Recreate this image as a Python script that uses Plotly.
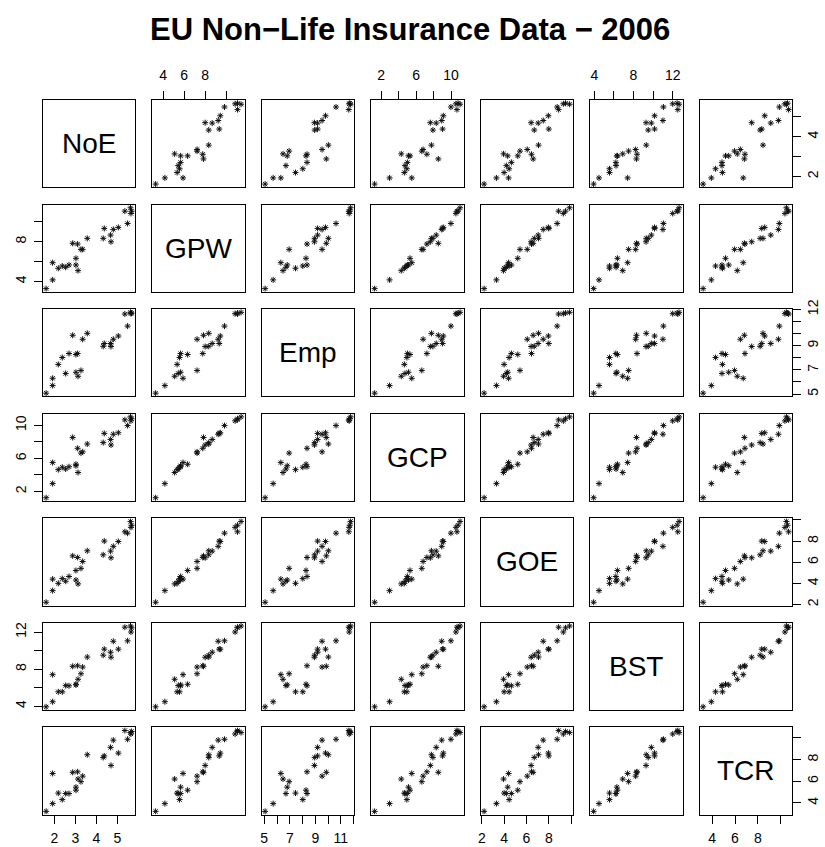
import plotly.graph_objects as go

# ---- data (26 insurance markets, log-scale measures) ----
var_names = ["NoE", "GPW", "Emp", "GCP", "GOE", "BST", "TCR"]
noe = [1.61, 1.92, 1.92, 2.19, 2.38, 2.54, 2.70, 2.875, 3.11, 3.03, 3.03, 3.13, 3.27,
       3.35, 3.57, 4.38, 4.33, 4.68, 4.70, 4.81, 5.05, 5.49, 5.36, 5.63, 5.65, 5.68]
gpw = [3.28, 4.16, 5.89, 5.33, 5.56, 5.43, 5.66, 7.84, 7.77, 6.33, 5.66, 5.09, 7.23,
       7.23, 8.34, 9.34, 8.34, 8.67, 8.00, 9.24, 9.44, 9.84, 11.08, 11.42, 10.85, 11.08]
emp = [5.07, 5.70, 6.30, 7.45, 8.02, 6.70, 8.35, 9.86, 8.35, 8.27, 6.80, 6.47, 6.95,
       9.53, 10.02, 9.18, 8.95, 9.18, 8.93, 9.53, 9.80, 10.62, 11.62, 11.76, 11.65, 11.70]
gcp = [1.25, 2.96, 5.50, 4.65, 4.94, 4.72, 5.00, 8.54, 7.23, 5.30, 5.12, 4.30, 6.65,
       6.80, 7.75, 9.03, 7.92, 8.30, 7.63, 8.93, 9.11, 9.98, 10.67, 11.03, 10.55, 10.80]
goe = [2.21, 3.31, 4.40, 4.00, 4.45, 4.20, 4.65, 6.60, 6.45, 5.22, 4.32, 3.95, 5.42,
       6.07, 7.08, 8.00, 6.70, 7.05, 6.42, 7.50, 7.96, 8.75, 8.88, 9.86, 9.30, 9.50]
bst = [3.93, 4.48, 7.40, 5.55, 5.55, 6.22, 6.20, 8.30, 8.36, 6.36, 6.30, 6.90, 7.50,
       8.22, 9.30, 10.15, 9.50, 9.82, 9.28, 11.00, 10.15, 11.05, 12.52, 12.65, 12.00, 12.45]
tcr = [3.21, 3.93, 6.72, 4.90, 4.30, 4.86, 4.86, 6.82, 6.87, 5.17, 5.45, 6.20, 5.96,
       6.47, 8.45, 8.34, 8.20, 9.13, 7.46, 9.80, 8.60, 9.88, 10.69, 10.50, 10.37, 10.60]

# tick positions and labels (horizontal axes / vertical axes)
noe_ticks = [2, 3, 4, 5]
noe_xlab = ["2", "3", "4", "5"]
noe_ylab = ["2", "", "4", ""]
gpw_ticks = [4, 6, 8, 10]
gpw_xlab = ["4", "6", "8", ""]
gpw_ylab = ["4", "", "8", ""]
emp_ticks = [5, 6, 7, 8, 9, 10, 11, 12]
emp_xlab = ["5", "", "7", "", "9", "", "11", ""]
emp_ylab = ["5", "", "7", "", "9", "", "", "12"]
gcp_ticks = [2, 4, 6, 8, 10]
gcp_xlab = ["2", "", "6", "", "10"]
gcp_ylab = ["2", "", "6", "", "10"]
goe_ticks = [2, 4, 6, 8, 10]
goe_xlab = ["2", "4", "6", "8", ""]
goe_ylab = ["2", "4", "6", "8", ""]
bst_ticks = [4, 6, 8, 10, 12]
bst_xlab = ["4", "", "8", "", "12"]
bst_ylab = ["4", "", "8", "", "12"]
tcr_ticks = [4, 6, 8, 10]
tcr_xlab = ["4", "6", "8", ""]
tcr_ylab = ["4", "6", "8", ""]

title_text = "EU Non\u2212Life Insurance Data \u2212 2006"

series = [noe, gpw, emp, gcp, goe, bst, tcr]
ticks = [noe_ticks, gpw_ticks, emp_ticks, gcp_ticks, goe_ticks, bst_ticks, tcr_ticks]
xlabs = [noe_xlab, gpw_xlab, emp_xlab, gcp_xlab, goe_xlab, bst_xlab, tcr_xlab]
ylabs = [noe_ylab, gpw_ylab, emp_ylab, gcp_ylab, goe_ylab, bst_ylab, tcr_ylab]

# ---- layout geometry (pixels) ----
W, H = 825, 847
n = len(var_names)
left0, col_pitch, panel_w = 42.7, 109.5, 92.3
top0, row_pitch, panel_h = 100.0, 104.55, 87.3

def rng(v):
    lo, hi = min(v), max(v)
    d = hi - lo
    return [lo - 0.04 * d, hi + 0.04 * d]

ranges = [rng(v) for v in series]
FONT = "Liberation Sans, Arial, Helvetica, sans-serif"

fig = go.Figure()
layout = dict(
    width=W, height=H, autosize=False,
    margin=dict(l=0, r=0, t=0, b=0, pad=0),
    paper_bgcolor="white", plot_bgcolor="white",
    showlegend=False,
    font=dict(family=FONT, size=14, color="black"),
)
annotations = []

for i in range(n):          # row -> y variable
    for j in range(n):      # col -> x variable
        k = i * n + j + 1
        xa = "xaxis" if k == 1 else f"xaxis{k}"
        ya = "yaxis" if k == 1 else f"yaxis{k}"
        xr = "x" if k == 1 else f"x{k}"
        yr = "y" if k == 1 else f"y{k}"
        x0 = left0 + j * col_pitch
        y0 = top0 + i * row_pitch
        xd = [x0 / W, (x0 + panel_w) / W]
        yd = [1 - (y0 + panel_h) / H, 1 - y0 / H]

        xaxis = dict(domain=xd, anchor=yr, range=ranges[j], showgrid=False,
                     zeroline=False, showline=True, mirror=True, linecolor="black",
                     linewidth=1, ticks="", showticklabels=False, fixedrange=True,
                     automargin=False)
        yaxis = dict(domain=yd, anchor=xr, range=ranges[i], showgrid=False,
                     zeroline=False, showline=True, mirror=True, linecolor="black",
                     linewidth=1, ticks="", showticklabels=False, fixedrange=True,
                     automargin=False)

        # R pairs axis placement
        if i == 0 and j % 2 == 1:
            xaxis.update(side="top", ticks="outside", ticklen=8, tickcolor="black",
                         tickvals=ticks[j], ticktext=xlabs[j], showticklabels=True,
                         ticklabelstandoff=5, tickfont=dict(size=14))
        if i == n - 1 and j % 2 == 0:
            xaxis.update(side="bottom", ticks="outside", ticklen=8, tickcolor="black",
                         tickvals=ticks[j], ticktext=xlabs[j], showticklabels=True,
                         ticklabelstandoff=3, tickfont=dict(size=14))
        if j == 0 and i % 2 == 1:
            yaxis.update(side="left", ticks="outside", ticklen=8, tickcolor="black",
                         tickvals=ticks[i], ticktext=ylabs[i], showticklabels=True,
                         tickangle=-90, ticklabelstandoff=2, tickfont=dict(size=14))
        if j == n - 1 and i % 2 == 0:
            yaxis.update(side="right", ticks="outside", ticklen=8, tickcolor="black",
                         tickvals=ticks[i], ticktext=ylabs[i], showticklabels=True,
                         tickangle=-90, ticklabelstandoff=0, tickfont=dict(size=14))

        layout[xa] = xaxis
        layout[ya] = yaxis

        if i == j:
            fig.add_trace(go.Scatter(x=[], y=[], xaxis=xr, yaxis=yr, mode="markers",
                                     hoverinfo="skip"))
            annotations.append(dict(
                xref=f"{xr} domain", yref=f"{yr} domain", x=0.5, y=0.5,
                text=var_names[i], showarrow=False, xanchor="center", yanchor="middle",
                font=dict(family=FONT, size=28, color="black")))
        else:
            fig.add_trace(go.Scatter(
                x=series[j], y=series[i], xaxis=xr, yaxis=yr, mode="markers",
                marker=dict(symbol="asterisk-open", size=5, color="#111111",
                            line=dict(width=1, color="#111111")),
                hoverinfo="skip"))

annotations.append(dict(
    xref="paper", yref="paper", x=410 / W, y=1 - 30 / H,
    text=f"<b>{title_text}</b>", showarrow=False, xanchor="center", yanchor="middle",
    font=dict(family=FONT, size=31, color="black")))

layout["annotations"] = annotations
fig.update_layout(**layout)
fig.write_html(
    "out.html",
    config={"displayModeBar": False, "responsive": False},
    post_script="document.body.style.margin='0';document.body.style.overflow='hidden';",
)
